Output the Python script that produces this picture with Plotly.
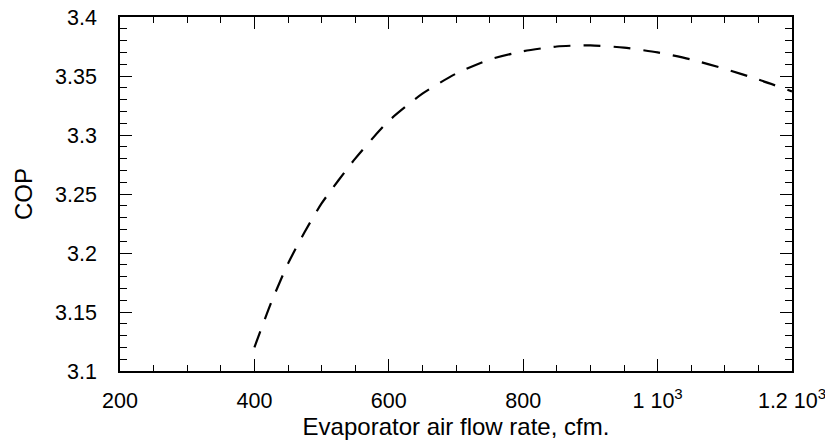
import plotly.graph_objects as go

# Data
flow_cfm = [400, 425, 450, 475, 500, 550, 600, 650, 700, 750, 800, 850, 900, 950, 1000, 1050, 1100, 1150, 1200]
cop = [3.120, 3.158, 3.191, 3.218, 3.242, 3.280, 3.312, 3.335, 3.352, 3.364, 3.371, 3.375, 3.376, 3.374, 3.370, 3.364, 3.356, 3.347, 3.337]

x_tickvals = [200, 400, 600, 800, 1000, 1200]
x_ticktext = ["200", "400", "600", "800", "1 10<sup>3</sup>", "1.2 10<sup>3</sup>"]
y_tickvals = [3.1, 3.15, 3.2, 3.25, 3.3, 3.35, 3.4]
y_ticktext = ["3.1", "3.15", "3.2", "3.25", "3.3", "3.35", "3.4"]

fig = go.Figure()
fig.add_trace(go.Scatter(
    x=flow_cfm, y=cop, mode="lines",
    line=dict(color="black", width=2.2, dash="17px,13px", shape="spline", smoothing=0.6),
    showlegend=False,
))

family = "Liberation Sans, Arial, sans-serif"
tick_font = dict(family=family, size=21.5, color="black")
title_font = dict(family=family, size=24, color="black")

fig.update_layout(
    width=825, height=444,
    margin=dict(l=120, r=33, t=17, b=73),
    paper_bgcolor="white", plot_bgcolor="white",
    font=tick_font,
)
fig.update_xaxes(
    range=[200, 1200], tickvals=x_tickvals, ticktext=x_ticktext,
    ticks="inside", ticklen=12, tickwidth=1.2, tickcolor="black",
    minor=dict(ticks="inside", ticklen=6, tickwidth=1.2, tickcolor="black", dtick=50, tick0=200, showgrid=False),
    showline=True, linecolor="black", linewidth=1.5, mirror="allticks",
    showgrid=False, zeroline=False, ticklabelstandoff=9,
    ticklabeloverflow="allow", automargin=False,
    tickfont=tick_font,
    title=dict(text="Evaporator air flow rate, cfm.", font=title_font, standoff=2),
)
fig.update_yaxes(
    range=[3.1, 3.4], tickvals=y_tickvals, ticktext=y_ticktext,
    ticks="inside", ticklen=12, tickwidth=1.2, tickcolor="black",
    minor=dict(ticks="inside", ticklen=7, tickwidth=1.2, tickcolor="black", dtick=0.01, tick0=3.1, showgrid=False),
    showline=True, linecolor="black", linewidth=1.5, mirror="allticks",
    showgrid=False, zeroline=False, ticklabelstandoff=17,
    ticklabeloverflow="allow", automargin=False,
    tickfont=tick_font,
    title=dict(text="COP", font=title_font, standoff=16),
)

fig.write_html("out.html")
